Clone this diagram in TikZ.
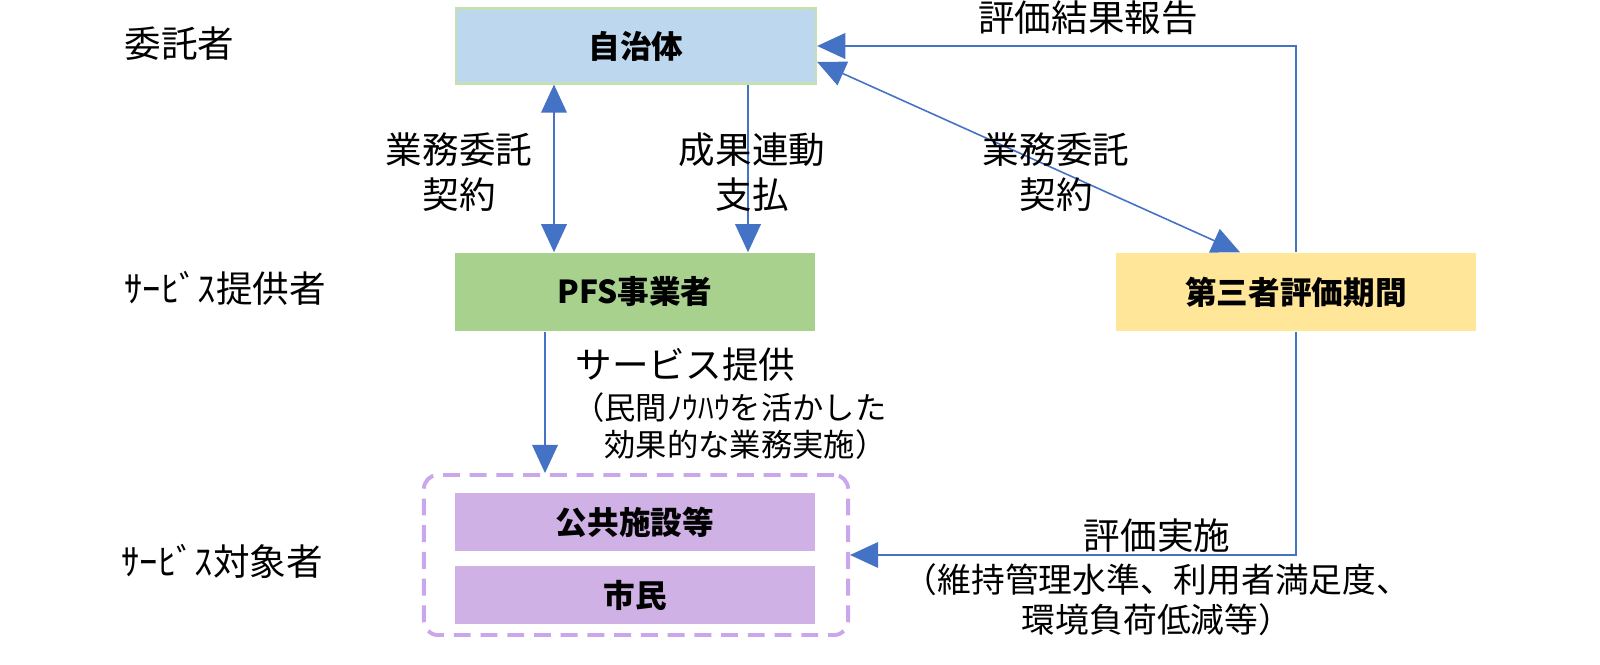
\documentclass[tikz,border=0pt]{standalone}
\usepackage{fontspec}
\setmainfont{Noto Sans CJK JP}
\usepackage{xcolor}
\usetikzlibrary{arrows.meta, calc, positioning}

\definecolor{lineblue}{HTML}{4472C4}
\definecolor{boxblue}{HTML}{BDD7EE}
\definecolor{boxbluerim}{HTML}{C5E0B4}
\definecolor{boxgreen}{HTML}{A9D18E}
\definecolor{boxyellow}{HTML}{FFE699}
\definecolor{boxpurple}{RGB}{207,177,229}
\definecolor{dashpurple}{RGB}{202,166,236}

\begin{document}
\begin{tikzpicture}[x=0.01cm, y=-0.01cm,
  box/.style={rectangle, inner sep=0pt, minimum width=3.6cm, minimum height=0.78cm, font=\fontsize{9}{11}\selectfont\bfseries},
  lbl/.style={inner sep=0pt, align=center, font=\fontsize{10.4}{12.8}\selectfont},
  note/.style={inner sep=0pt, font=\fontsize{8.9}{10.5}\selectfont},
  conn/.style={draw=lineblue, line width=0.45pt, -{Triangle[length=8pt, width=7.3pt]}},
  both/.style={draw=lineblue, line width=0.45pt, {Triangle[length=8pt, width=7.3pt]}-{Triangle[length=8pt, width=7.3pt]}}]
\useasboundingbox (0,0) rectangle (1600,665);

% roles on the left
\node[lbl, anchor=west] (itakusha) at (124,44) {委託者};
\node[lbl, anchor=west] (teikyosha) at (124,288) {ｻｰﾋﾞｽ提供者};
\node[lbl, anchor=west] (taishosha) at (121,561) {ｻｰﾋﾞｽ対象者};

% boxes
\node[box, fill=boxblue, draw=boxbluerim, line width=0.6pt, minimum height=0.75cm] (jichitai) at (636,46) {自治体};
\node[box, fill=boxgreen] (pfs) at (635,292) {PFS事業者};
\node[box, fill=boxyellow] (hyoka) at (1296,292) {第三者評価期間};
\node[box, fill=boxpurple, minimum height=0.57cm] (shisetsu) at (635,522) {公共施設等};
\node[box, fill=boxpurple, minimum height=0.57cm] (shimin) at (635,595) {市民};
\node[draw=dashpurple, line width=1.1pt, dash pattern=on 4.8pt off 2.8pt, rounded corners=4pt,
  minimum width=4.24cm, minimum height=1.6cm, inner sep=0pt] (taisho) at (636,555) {};

% connectors
\draw[both] ($(jichitai.south)+(-82,0)$) -- ($(pfs.north)+(-81,0)$);
\draw[conn] ($(jichitai.south)+(112,0)$) -- ($(pfs.north)+(113,0)$);
\draw[conn] (hyoka.north) |- (jichitai.east);
\draw[both] ($(jichitai.east)+(0,16)$) -- ($(hyoka.north)+(-56,0)$);
\draw[conn] ($(pfs.south)+(-90,0)$) -- ($(taisho.north)+(-91,0)$);
\draw[conn] (hyoka.south) |- (taisho.east);

% labels
\node[lbl] (kekka) at (1088,18) {評価結果報告};
\node[lbl] (keiyaku1) at (459,172) {業務委託\\契約};
\node[lbl] (shiharai) at (752,172) {成果連動\\支払};
\node[lbl] (keiyaku2) at (1056,172) {業務委託\\契約};
\node[lbl, anchor=west] (service) at (575,365) {サービス提供};
\node[note, align=right, anchor=east] (knowhow) at (887,426) {（民間ﾉｳﾊｳを活かした\\効果的な業務実施）};
\node[lbl] (jisshi) at (1157,536) {評価実施};
\node[note, align=center, font=\fontsize{9.6}{11.4}\selectfont] (kijun) at (1157,600) {（維持管理水準、利用者満足度、\\環境負荷低減等）};
\end{tikzpicture}
\end{document}
